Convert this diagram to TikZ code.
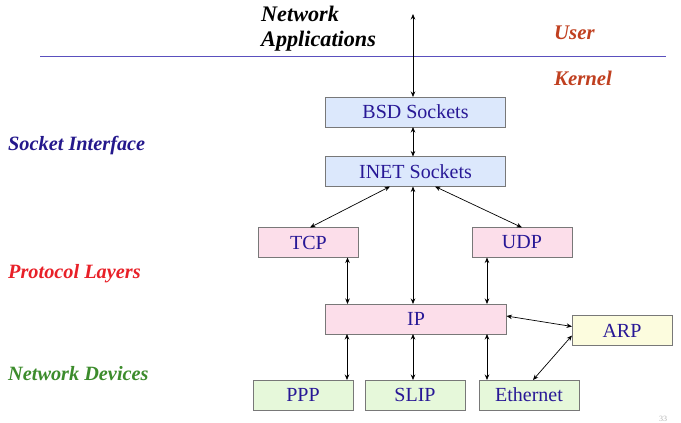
\documentclass[tikz,border=0pt]{standalone}
\usepackage{fontspec}
\setmainfont{Liberation Serif}
\usetikzlibrary{arrows.meta}
\definecolor{boxtext}{RGB}{40,24,150}
\definecolor{boxline}{RGB}{120,120,120}
\definecolor{bluefill}{RGB}{220,232,252}
\definecolor{pinkfill}{RGB}{252,222,234}
\definecolor{yellowfill}{RGB}{252,252,222}
\definecolor{greenfill}{RGB}{230,248,218}
\definecolor{sepline}{RGB}{90,80,190}
\definecolor{userred}{RGB}{192,64,32}
\definecolor{sockblue}{RGB}{36,24,140}
\definecolor{protred}{RGB}{232,32,40}
\definecolor{devgreen}{RGB}{60,140,44}
\tikzset{
  layerbox/.style={draw=boxline, line width=0.8pt, inner sep=0pt, outer sep=0pt,
    text=boxtext, font=\fontsize{20}{24}\selectfont, minimum height=30pt},
  sockbox/.style={layerbox, fill=bluefill, minimum width=180pt},
  protobox/.style={layerbox, fill=pinkfill, minimum width=100pt},
  ipbox/.style={layerbox, fill=pinkfill, minimum width=181pt},
  arpbox/.style={layerbox, fill=yellowfill, minimum width=100pt},
  devbox/.style={layerbox, fill=greenfill, minimum width=100pt},
  arr/.style={{Stealth[length=5.5pt,width=4.5pt]}-{Stealth[length=5.5pt,width=4.5pt]}, line width=0.7pt, black},
  sidelabel/.style={font=\fontsize{20.3}{24}\selectfont\bfseries\itshape, anchor=base west, inner sep=0pt},
}
\begin{document}
\begin{tikzpicture}[x=1pt,y=-1pt]
\useasboundingbox (0,0) rectangle (681,423);
% separator
\draw[sepline, line width=0.8pt] (40,56) -- (666,56);
% texts
\node[font=\fontsize{22.2}{25}\selectfont\bfseries\itshape, align=left, anchor=north west, inner sep=0pt] (apps) at (261,6) {Network\\Applications};
\node[sidelabel, text=userred, font=\fontsize{20.8}{24}\selectfont\bfseries\itshape] (user) at (554,39) {User};
\node[sidelabel, text=userred, font=\fontsize{20.8}{24}\selectfont\bfseries\itshape] (kernel) at (554,85) {Kernel};
\node[sidelabel, text=sockblue] (sockif) at (8,150) {Socket Interface};
\node[sidelabel, text=protred] (protl) at (8,278) {Protocol Layers};
\node[sidelabel, text=devgreen] (netdev) at (8,380) {Network Devices};
% boxes
\node[sockbox] (bsd) at (415.5,112) {BSD Sockets};
\node[sockbox] (inet) at (415.5,171.5) {INET Sockets};
\node[protobox] (tcp) at (308.5,242.5) {TCP};
\node[protobox] (udp) at (522,242.5) {UDP};
\node[ipbox] (ip) at (416,319) {IP};
\node[arpbox] (arp) at (622,330.5) {ARP};
\node[devbox] (ppp) at (303,395) {PPP};
\node[devbox] (slip) at (415,395) {SLIP};
\node[devbox] (eth) at (529,395) {Ethernet};
\coordinate (apptop) at (413,14);
% page number
\node[text=gray!60, font=\fontsize{8}{9}\selectfont, anchor=south, inner sep=0pt] (pgnum) at (663,422) {33};
% connectors
\draw[arr] (apptop) -- (apptop |- bsd.north);
\draw[arr] ([xshift=-2.5pt]bsd.south) -- ([xshift=-2.5pt]inet.north);
\draw[arr] ([xshift=-25.5pt]inet.south) -- ([xshift=1.5pt]tcp.north);
\draw[arr] ([xshift=19.5pt]inet.south) -- (udp.north);
\draw[arr] ([xshift=-2.5pt]inet.south) -- ([xshift=-2.5pt]inet.south |- ip.north);
\draw[arr] ([xshift=-11pt]tcp.south east) -- ([xshift=-11pt]tcp.south east |- ip.north);
\draw[arr] ([xshift=15pt]udp.south west) -- ([xshift=15pt]udp.south west |- ip.north);
\draw[arr] ([yshift=3pt]ip.east) -- ([yshift=4pt]arp.west);
\draw[arr] ([yshift=-5pt]arp.west) -- ([xshift=4pt]eth.north);
\draw[arr] (ip.south -| ppp.north east) ++(-6,0) coordinate (pppx) -- (pppx |- ppp.north);
\draw[arr] (ip.south -| slip.north) ++(-2,0) coordinate (slipx) -- (slipx |- slip.north);
\draw[arr] ([xshift=8pt]eth.north west |- ip.south) -- ([xshift=8pt]eth.north west);
\end{tikzpicture}
\end{document}
